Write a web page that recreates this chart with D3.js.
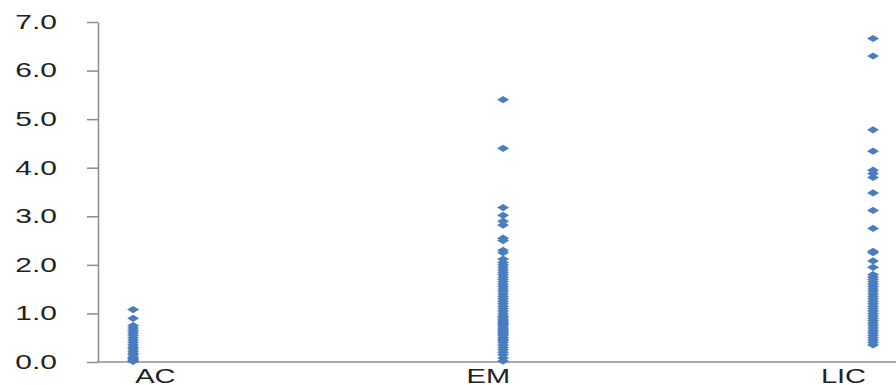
<!DOCTYPE html>
<html>
<head>
<meta charset="utf-8">
<script src="https://cdn.jsdelivr.net/npm/d3@7"></script>
<style>
  body { margin: 0; background: #fff; }
  svg { display: block; }
  .axis text { font-family: "Liberation Sans", Arial, sans-serif; font-size: 20px; fill: #222; }
  .axis path, .axis line { stroke: #8c8c8c; stroke-width: 1.5; }
</style>
</head>
<body>
<div class="entries"></div>
<script>
var categories = ["AC", "EM", "LIC"];
var catPos = [1, 2, 3];
var labelPos = [1.06, 1.96, 2.92];
var yTicks = [0, 1, 2, 3, 4, 5, 6, 7];

var acValues = [1.08, 0.9, 0.75, 0.7, 0.65, 0.6, 0.55, 0.5, 0.45, 0.4, 0.35, 0.3, 0.27,
  0.22, 0.18, 0.15, 0.1, 0.08, 0.05, 0.03, 0.01];
var emValues = [5.4, 4.4, 3.18, 3.02, 2.9, 2.82, 2.55, 2.5, 2.3, 2.25, 2.12, 2.05, 2.0,
  1.95, 1.9, 1.85, 1.8, 1.75, 1.7, 1.65, 1.6, 1.55, 1.5, 1.45, 1.4, 1.35, 1.3, 1.25,
  1.2, 1.15, 1.1, 1.05, 1.0, 0.95, 0.92, 0.88, 0.85, 0.82, 0.8, 0.77, 0.74, 0.7, 0.68,
  0.65, 0.62, 0.6, 0.57, 0.54, 0.5, 0.47, 0.44, 0.4, 0.35, 0.3, 0.25, 0.2, 0.15, 0.08, 0.02];
var licValues = [6.66, 6.3, 4.78, 4.34, 3.95, 3.88, 3.8, 3.48, 3.12, 2.75, 2.28, 2.25,
  2.08, 1.95, 1.8, 1.75, 1.7, 1.65, 1.6, 1.55, 1.5, 1.45, 1.4, 1.35, 1.3, 1.25, 1.2,
  1.15, 1.1, 1.05, 1.0, 0.95, 0.9, 0.85, 0.8, 0.75, 0.7, 0.65, 0.6, 0.55, 0.5, 0.45,
  0.4, 0.35];

var w = 896,
    h = 385;

var vis = d3.select(".entries").append("svg")
    .attr("width", w)
    .attr("height", h);

var x = d3.scaleLinear().domain([0.905, 3.062]).range([98, 896]);
var y = d3.scaleLinear().domain([0, 7]).range([362, 22]);

// y axis
var yAxis = vis.append("g")
    .attr("class", "axis")
    .attr("transform", "translate(98,0)")
    .call(d3.axisLeft(y).tickValues(yTicks).tickSize(11).tickSizeOuter(0)
      .tickFormat(d3.format(".1f")));
yAxis.selectAll("text")
    .attr("x", 0)
    .attr("transform", "translate(-41,0) scale(1.5,1)");

// x axis
var xAxis = vis.append("g")
    .attr("class", "axis")
    .attr("transform", "translate(0,362)")
    .call(d3.axisBottom(x).tickValues(labelPos).tickSize(0).tickSizeOuter(0)
      .tickFormat(function(d, i) { return categories[i]; }));
xAxis.select(".domain").attr("d", "M98,0H896");
xAxis.selectAll("text")
    .attr("y", 0)
    .attr("dy", "1.05em")
    .attr("transform", "scale(1.45,1)");
xAxis.selectAll(".tick").each(function(d) {
  d3.select(this).attr("transform", "translate(" + x(d) + ",0)");
});

var points = [];
[acValues, emValues, licValues].forEach(function(vals, i) {
  vals.forEach(function(v) { points.push({cat: catPos[i], value: v}); });
});

vis.append("g").selectAll("path.pt")
    .data(points)
    .enter().append("path")
    .attr("class", "pt")
    .attr("d", "M-6,0L0,-3.6L6,0L0,3.6Z")
    .attr("fill", "#4a7dc0")
    .attr("transform", function(d) {
      return "translate(" + x(d.cat) + "," + y(d.value) + ")";
    });
</script>
</body>
</html>
